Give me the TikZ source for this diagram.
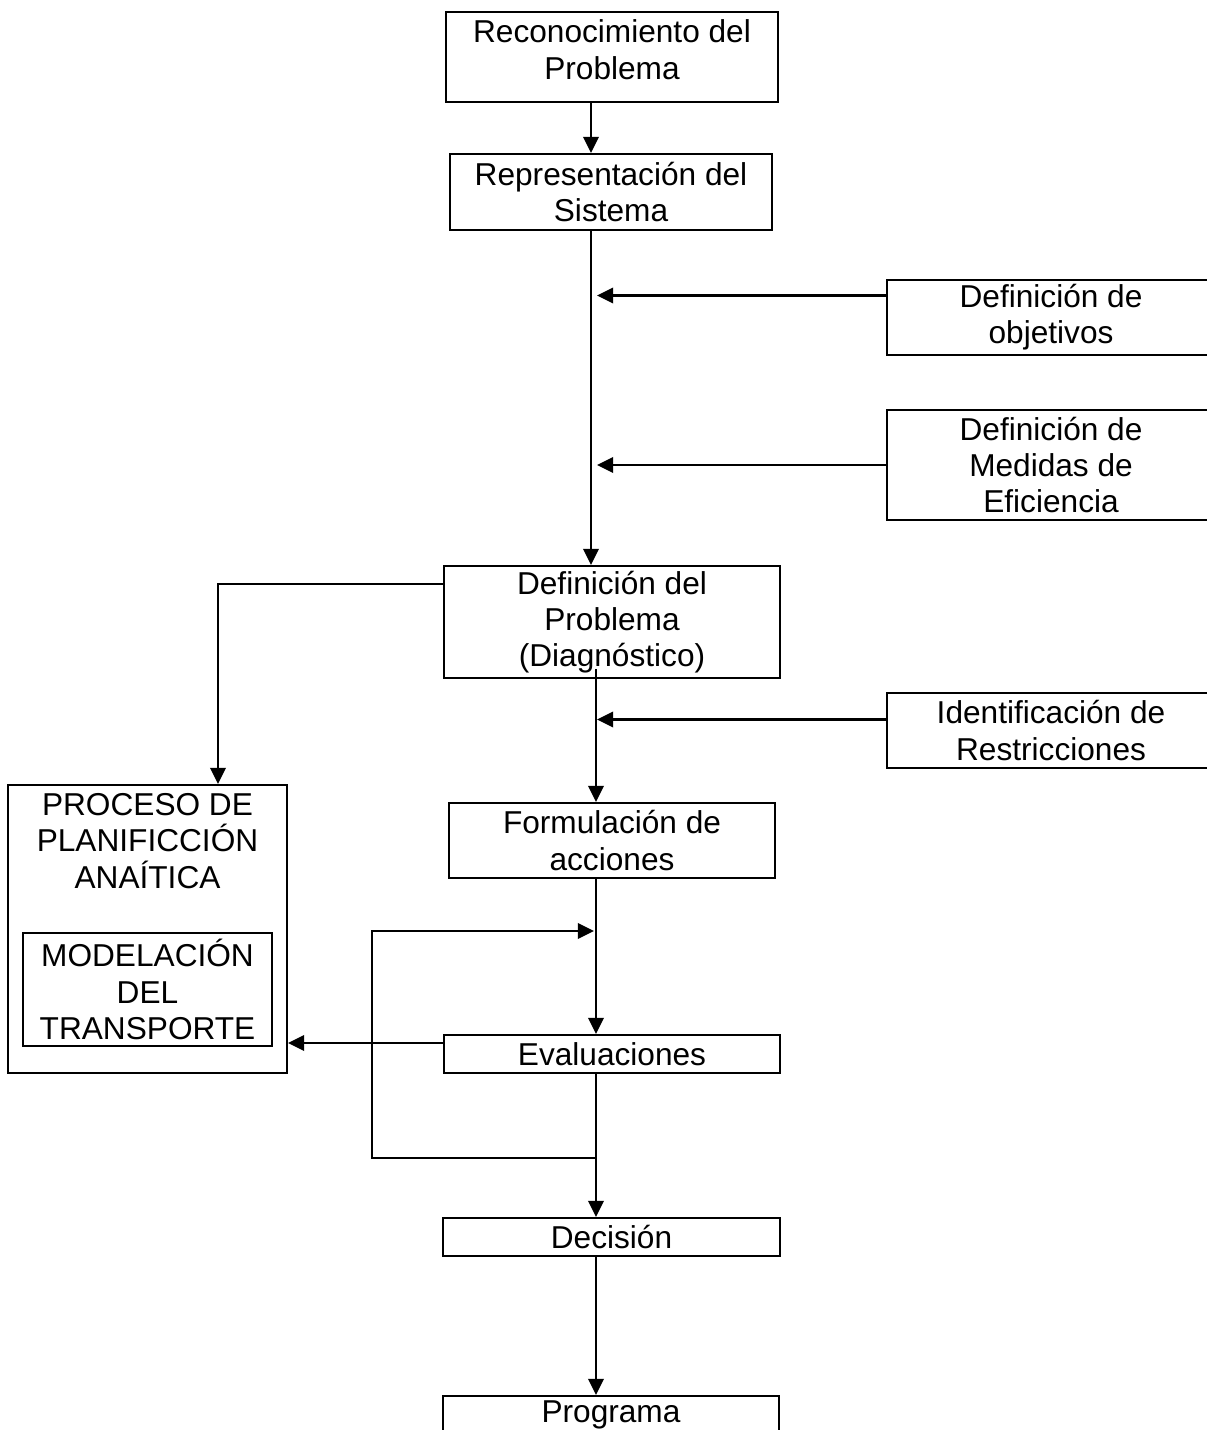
\documentclass[tikz,border=0pt]{standalone}
\usepackage{fontspec}
\setmainfont{Liberation Sans}
\usetikzlibrary{arrows.meta}

\begin{document}
\begin{tikzpicture}[box/.style={draw, line width=0.6pt, align=center, inner sep=0pt},
  arr/.style={-{Triangle[length=4.6pt,width=4.4pt]}, line width=0.6pt},
  font=\fontsize{9}{10.3}\selectfont]
\useasboundingbox (0,0) rectangle (12.06,-14.30);
% spine of the flow
\coordinate (spineA) at (5.91,0);
\coordinate (spineB) at (5.96,0);
\coordinate (tipA) at (5.97,0);
\coordinate (drop) at (2.18,0);
\node[box, minimum width=3.32cm, minimum height=0.90cm, text depth=0.15cm] (reco) at (6.12,-0.57){Reconocimiento del\\Problema};
\node[box, minimum width=3.22cm, minimum height=0.76cm] (repr) at (6.11,-1.92){Representación del\\Sistema};
\node[box, minimum width=3.28cm, minimum height=0.75cm] (obj) at (10.51,-3.175){Definición de\\objetivos};
\node[box, minimum width=3.28cm, minimum height=1.10cm] (med) at (10.51,-4.65){Definición de\\Medidas de\\Eficiencia};
\node[box, minimum width=3.36cm, minimum height=1.12cm] (defp) at (6.12,-6.22){Definición del\\Problema\\(Diagnóstico)};
\node[box, minimum width=3.28cm, minimum height=0.75cm] (restr) at (10.51,-7.305){Identificación de\\Restricciones};
\node[box, minimum width=3.26cm, minimum height=0.75cm] (form) at (6.12,-8.405){Formulación de\\acciones};
\node[box, minimum width=3.36cm, minimum height=0.38cm] (evalu) at (6.12,-10.54){Evaluaciones};
\node[box, minimum width=3.37cm, minimum height=0.38cm] (deci) at (6.115,-12.37){Decisión};
\node[box, minimum width=3.36cm, minimum height=0.38cm] (prog) at (6.11,-14.15){Programa};
\node[box, minimum width=2.79cm, minimum height=2.88cm] (proc) at (1.475,-9.29){};
\node[align=center, inner sep=0pt] (proctxt) at (1.475,-8.41){PROCESO DE\\PLANIFICCIÓN\\ANAÍTICA};
\node[box, minimum width=2.49cm, minimum height=1.13cm] (modl) at (1.475,-9.895){MODELACIÓN\\DEL\\TRANSPORTE};
% feedback loop
\coordinate (loopout) at (5.96,-11.58);
\coordinate (loopL) at (3.72,-11.58);
\coordinate (loopin) at (5.94,-9.31);
\draw[arr] (reco.south -| spineA) -- (repr.north -| spineA);
\draw[arr] (repr.south -| spineA) -- (defp.north -| spineA);
\draw[arr] ([yshift=2.2mm]obj.west) -- ([yshift=2.2mm]obj.west -| tipA);
\draw[arr] (med.west) -- (med.west -| tipA);
\draw[arr] ([yshift=1.1mm]restr.west) -- ([yshift=1.1mm]restr.west -| tipA);
\draw[arr] ([yshift=1mm]defp.south -| spineB) -- (form.north -| spineB);
\draw[arr] (form.south -| spineB) -- (evalu.north -| spineB);
\draw[arr] (evalu.south -| spineB) -- (deci.north -| spineB);
\draw[arr] (deci.south -| spineB) -- (prog.north -| spineB);
\draw[arr] ([yshift=3.8mm]defp.west) -| (drop |- proc.north);
\draw[arr] ([yshift=1.1mm]evalu.west) -- ([yshift=1.1mm]evalu.west -| proc.east);
\draw[arr] (loopout) -- (loopL) |- (loopin);
\end{tikzpicture}
\end{document}
